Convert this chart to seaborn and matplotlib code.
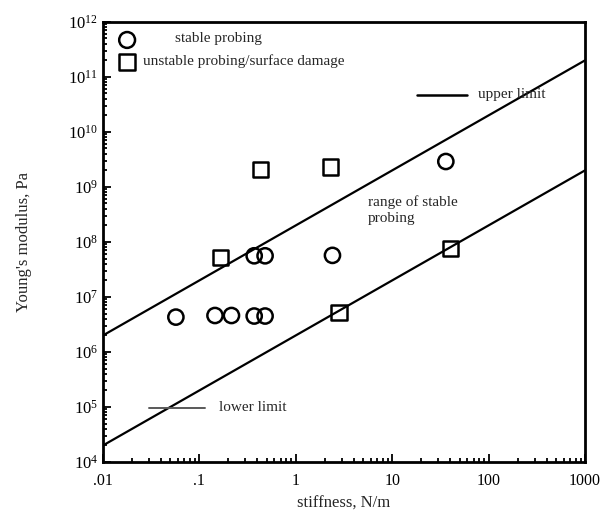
import numpy as np
import pandas as pd
import seaborn as sns
import matplotlib
matplotlib.use("Agg")
import matplotlib.pyplot as plt
from matplotlib.ticker import LogLocator, FixedFormatter, FixedLocator, NullFormatter

# data
stable_x = [0.057, 0.145, 0.215, 0.37, 0.48, 0.37, 0.48, 2.4, 36]
stable_y = [4.3e6, 4.6e6, 4.6e6, 4.5e6, 4.5e6, 5.6e7, 5.6e7, 5.7e7, 2.9e9]
unstable_x = [0.165, 0.43, 2.3, 2.8, 40]
unstable_y = [5.3e7, 2.1e9, 2.3e9, 5.3e6, 7.5e7]
limit_x = [0.01, 1000]
upper_y = [2e6, 2e11]
lower_y = [2e4, 2e9]
xticks = [0.01, 0.1, 1, 10, 100, 1000]
xticklabels = [".01", ".1", "1", "10", "100", "1000"]

pts = pd.DataFrame({
    "k": stable_x + unstable_x,
    "E": stable_y + unstable_y,
    "kind": ["stable"] * len(stable_x) + ["unstable"] * len(unstable_x),
})
lines = pd.DataFrame({
    "k": limit_x * 2,
    "E": upper_y + lower_y,
    "lim": ["upper"] * 2 + ["lower"] * 2,
})

sns.set_style("ticks")
plt.rcParams["font.family"] = ["Liberation Serif", "DejaVu Serif"]
plt.rcParams["mathtext.fontset"] = "stix"

fig = plt.figure(figsize=(6, 5.22), dpi=100)
ax = fig.add_axes([0.1717, 0.115, 0.8033, 0.843])

sns.lineplot(data=lines, x="k", y="E", units="lim", estimator=None,
             color="black", lw=1.6, ax=ax, legend=False)
sns.scatterplot(data=pts, x="k", y="E", style="kind",
                markers={"stable": "o", "unstable": "s"},
                s=120, facecolor="none", edgecolor="black", linewidth=1.8,
                ax=ax, legend=False)

ax.set_xscale("log")
ax.set_yscale("log")
ax.set_xlim(0.01, 1000)
ax.set_ylim(1e4, 1e12)

ax.xaxis.set_major_locator(FixedLocator(xticks))
ax.xaxis.set_major_formatter(FixedFormatter(xticklabels))
ax.xaxis.set_minor_locator(LogLocator(base=10, subs=np.arange(2, 10), numticks=100))
ax.xaxis.set_minor_formatter(NullFormatter())
ax.yaxis.set_major_locator(LogLocator(base=10, numticks=20))
ax.yaxis.set_minor_locator(LogLocator(base=10, subs=np.arange(2, 10), numticks=100))
ax.yaxis.set_minor_formatter(NullFormatter())

ax.tick_params(which="both", direction="in", top=False, right=False,
               width=1.3, labelsize=12, colors="black")
ax.tick_params(which="major", length=6)
ax.tick_params(which="minor", length=3)
ax.tick_params(axis="x", pad=8, labelsize=11.5)
for sp in ax.spines.values():
    sp.set_linewidth(2)
    sp.set_color("black")

ax.set_xlabel("stiffness, N/m", fontsize=12, labelpad=5)
ax.set_ylabel("Young's modulus, Pa", fontsize=12, labelpad=26)

# in-plot legend as drawn in the original
tr = ax.transAxes
ax.scatter([0.05], [0.959], transform=tr, marker="o", s=130,
           facecolor="none", edgecolor="black", linewidth=1.8, clip_on=False)
ax.text(0.149, 0.962, "stable probing", transform=tr, fontsize=11, va="center")
ax.scatter([0.05], [0.909], transform=tr, marker="s", s=140,
           facecolor="none", edgecolor="black", linewidth=1.8, clip_on=False)
ax.text(0.083, 0.912, "unstable probing/surface damage", transform=tr,
        fontsize=11, va="center")
ax.plot([0.651, 0.755], [0.834, 0.834], transform=tr, color="black", lw=1.8)
ax.text(0.778, 0.834, "upper limit", transform=tr, fontsize=11, va="center")
ax.plot([0.095, 0.212], [0.123, 0.123], transform=tr, color="0.35", lw=1.4)
ax.text(0.241, 0.123, "lower limit", transform=tr, fontsize=11, va="center")
ax.text(0.55, 0.572, "range of stable\nprobing", transform=tr, fontsize=11,
        va="center", linespacing=1.35)

fig.savefig("out.png", dpi=100)
